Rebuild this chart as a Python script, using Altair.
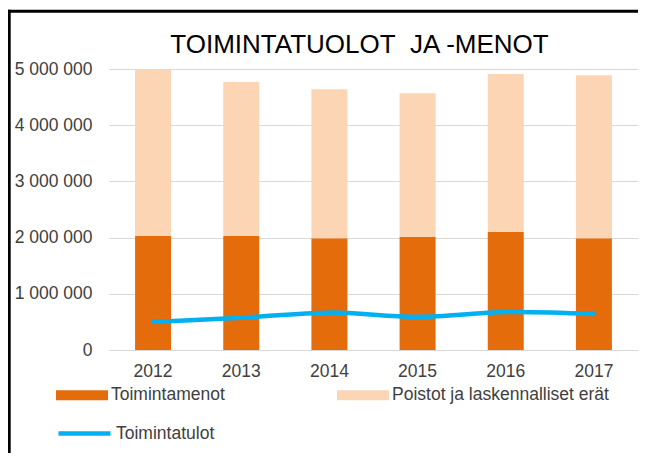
import altair as alt
import pandas as pd

years = ["2012", "2013", "2014", "2015", "2016", "2017"]
toimintamenot = [2030000, 2030000, 1990000, 2010000, 2100000, 1990000]
poistot = [2960000, 2740000, 2650000, 2560000, 2810000, 2900000]
toimintatulot = [500000, 575000, 665000, 590000, 675000, 640000]
series_bars = ["Toimintamenot", "Poistot ja laskennalliset erät"]
series_line = ["Toimintatulot"]
y_ticks = [0, 1000000, 2000000, 3000000, 4000000, 5000000]
title_text = "TOIMINTATUOLOT\u00a0 JA -MENOT"

FONT = "Liberation Sans"
DARK = "#E46C0A"
LIGHT = "#FCD5B5"
BLUE = "#00B0F0"
TXT = "#404040"

rows = []
for i, yr in enumerate(years):
    rows.append({"year": yr, "series": series_bars[0], "value": toimintamenot[i], "ord": 0})
    rows.append({"year": yr, "series": series_bars[1], "value": poistot[i], "ord": 1})
bars_df = pd.DataFrame(rows)
line_df = pd.DataFrame({"year": years, "series": series_line[0], "value": toimintatulot})

x_enc = alt.X(
    "year:N",
    sort=years,
    scale=alt.Scale(paddingInner=0, paddingOuter=0),
    axis=alt.Axis(title=None, labelAngle=0, domain=False, ticks=False, grid=False,
                  labelPadding=12, labelFont=FONT, labelFontSize=17.5, labelColor=TXT),
)

y_axis = alt.Axis(
    title=None, values=y_ticks, domain=False, ticks=False, grid=True,
    gridColor="#d9d9d9", gridWidth=1, labelPadding=17, labelFont=FONT,
    labelFontSize=17.5, labelColor=TXT,
    labelExpr="replace(format(datum.value, ','), regexp(',', 'g'), ' ')",
)

bars = alt.Chart(bars_df).mark_bar(size=36).encode(
    x=x_enc,
    y=alt.Y("value:Q", stack="zero", scale=alt.Scale(domain=[0, 5000000], nice=False), axis=y_axis),
    color=alt.Color(
        "series:N",
        scale=alt.Scale(domain=series_bars, range=[DARK, LIGHT]),
        legend=alt.Legend(
            title=None, orient="none", legendX=-53, legendY=300, direction="horizontal",
            columns=2, columnPadding=112, padding=0, labelOffset=3, labelLimit=400,
            symbolType="M-1,-0.19H1V0.19H-1Z", symbolSize=2704, symbolStrokeWidth=0,
            labelFont=FONT, labelFontSize=17.5, labelColor=TXT,
        ),
    ),
    order=alt.Order("ord:Q"),
)

line = alt.Chart(line_df).mark_line(interpolate="cardinal", strokeWidth=4.5, strokeCap="round").encode(
    x=alt.X("year:N", sort=years),
    y=alt.Y("value:Q"),
    stroke=alt.Stroke(
        "series:N",
        scale=alt.Scale(domain=series_line, range=[BLUE]),
        legend=alt.Legend(
            title=None, orient="none", legendX=-53, legendY=336, padding=0, labelOffset=3,
            labelLimit=400, symbolType="stroke", symbolSize=2704, symbolStrokeWidth=4.5,
            labelFont=FONT, labelFontSize=17.5, labelColor=TXT,
        ),
    ),
)

frame_data = alt.Data(values=[{"k": 1}])
top_rule = alt.Chart(frame_data).mark_rule(color="black", strokeWidth=3).encode(
    x=alt.value(-101), x2=alt.value(530), y=alt.value(-57.7)
)
left_rule = alt.Chart(frame_data).mark_rule(color="black", strokeWidth=3).encode(
    x=alt.value(-99.8), y=alt.value(-59.2), y2=alt.value(384)
)

chart = alt.layer(bars, line, top_rule, left_rule).resolve_scale(
    color="independent", stroke="independent"
).properties(
    width=529,
    height=281,
    padding={"left": 101, "top": 61, "right": 0, "bottom": 103},
    autosize=alt.AutoSizeParams(type="none"),
    title=alt.Title(title_text, font=FONT, fontSize=26, fontWeight="normal", color="#000000",
                    anchor="middle", frame="group", dx=-14, dy=71, offset=0,
                    baseline="alphabetic"),
).configure_view(stroke=None)

chart.save("out.html", embed_options={"renderer": "svg", "actions": False})
